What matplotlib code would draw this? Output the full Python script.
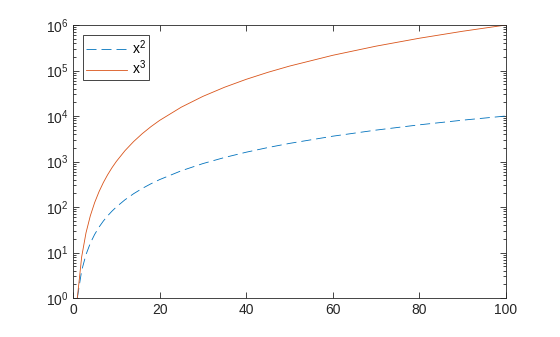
import matplotlib
matplotlib.use("Agg")
import matplotlib.pyplot as plt
from matplotlib.ticker import LogLocator, FixedLocator

plt.rcParams["font.family"] = ["Liberation Sans", "DejaVu Sans"]
plt.rcParams["font.size"] = 10
plt.rcParams["lines.scale_dashes"] = False

# values
x = [1, 2, 3, 4, 5, 6, 7, 8, 9, 10, 12, 14, 16, 18, 20, 25, 30, 35, 40,
     45, 50, 60, 70, 80, 90, 100]
y_sq = [1, 4, 9, 16, 25, 36, 49, 64, 81, 100, 144, 196, 256, 324, 400, 625,
        900, 1225, 1600, 2025, 2500, 3600, 4900, 6400, 8100, 10000]
y_cu = [1, 8, 27, 64, 125, 216, 343, 512, 729, 1000, 1728, 2744, 4096, 5832,
        8000, 15625, 27000, 42875, 64000, 91125, 125000, 216000, 343000,
        512000, 729000, 1000000]
x_ticks = [0, 20, 40, 60, 80, 100]
y_ticks = [1, 10, 100, 1000, 10000, 100000, 1000000]
y_labels = [r"$\mathregular{10^{%d}}$" % i for i in range(7)]

fig = plt.figure(figsize=(5.6, 3.37), dpi=100)
ax = fig.add_axes([73/560, 1-298/337, (506-73)/560, (298-25)/337])

ax.plot(x, y_sq, "--", color="#0072BD", lw=0.6, dashes=(7.2, 3.6),
        label=r"$\mathregular{x^2}$")
ax.plot(x, y_cu, "-", color="#D95319", lw=0.6, label=r"$\mathregular{x^3}$")

ax.set_yscale("log")
ax.set_xlim(0, 100)
ax.set_ylim(1, 1e6)
ax.xaxis.set_major_locator(FixedLocator(x_ticks))
ax.set_yticks(y_ticks)
ax.set_yticklabels(y_labels)
ax.yaxis.set_minor_locator(LogLocator(base=10, subs=range(2, 10), numticks=20))
ax.tick_params(which="both", direction="in", top=True, right=True,
               width=0.6, colors="#262626", labelcolor="#262626")
ax.tick_params(which="major", length=4)
ax.tick_params(which="minor", length=2)
for s in ax.spines.values():
    s.set_linewidth(0.6)
    s.set_color("#262626")

leg = ax.legend(loc="upper left", fancybox=False, edgecolor="#262626",
                framealpha=1, handlelength=2.95, handletextpad=0.35,
                borderaxespad=0.75, borderpad=0.2, labelspacing=0.15)
leg.get_frame().set_linewidth(0.6)

fig.savefig("out.png", dpi=100)
